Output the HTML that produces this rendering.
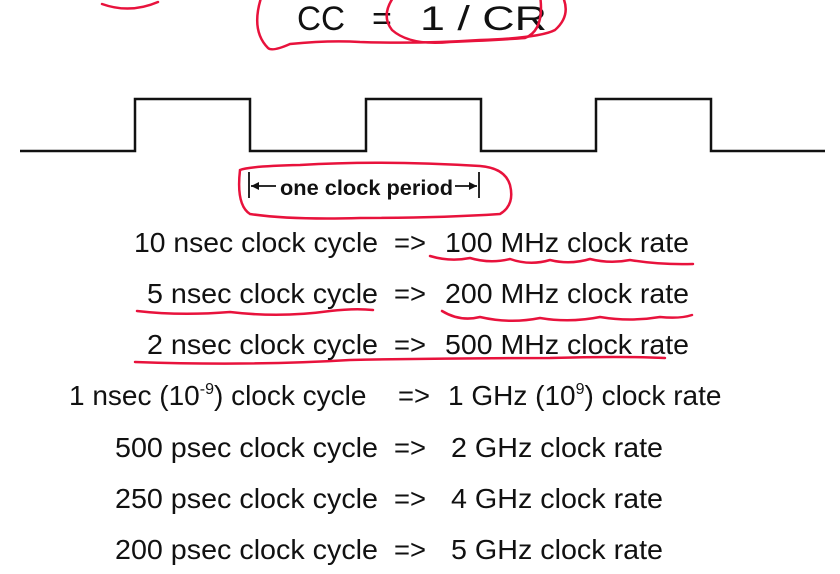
<!DOCTYPE html>
<html><head><meta charset="utf-8"><style>
html,body{margin:0;padding:0;background:#fff;}
svg{display:block}
text{font-family:"Liberation Sans",Arial,sans-serif;fill:#111;}
</style></head><body>
<svg width="840" height="574" viewBox="0 0 840 574" xmlns="http://www.w3.org/2000/svg">
<!-- title -->
<text x="297" y="30" font-size="34" textLength="48" lengthAdjust="spacingAndGlyphs">CC</text>
<text x="372" y="30" font-size="34">=</text>
<text x="420" y="30" font-size="34" textLength="127" lengthAdjust="spacingAndGlyphs">1 / CR</text>
<!-- red annotations top -->
<g fill="none" stroke="#e8123c" stroke-width="2.5" stroke-linecap="round">
<path d="M102 4 Q130 14 158 2"/>
<path d="M262 -5 Q250 30 268 48 Q272 52 290 44 Q330 40 360 42 Q420 44 480 40 Q540 38 555 30 Q572 15 562 -5"/>
<path d="M395 -5 Q380 15 392 30 Q410 46 450 42 Q500 40 525 38 Q545 30 540 -5"/>
<path d="M240 170 Q236 205 250 214 Q290 220 360 218 Q440 218 500 214 Q515 205 510 185 Q505 168 480 166 Q380 160 300 165 Q250 166 240 170"/>
<path d="M430 256 Q450 262 470 258 Q490 264 510 259 Q530 266 550 260 Q570 265 590 259 Q610 264 630 260 Q660 265 693 264"/>
<path d="M137 311 Q180 316 230 312 Q280 318 330 311 Q355 308 373 310"/>
<path d="M442 311 Q460 322 480 317 Q510 324 540 318 Q570 323 600 317 Q630 322 660 317 Q680 319 692 315"/>
<path d="M135 362 Q250 366 350 360 Q450 358 550 358 Q620 356 665 358"/>
</g>
<!-- waveform -->
<path d="M20 151 H135 V99 H250 V151 H366 V99 H481 V151 H596 V99 H711 V151 H825" fill="none" stroke="#111" stroke-width="2.5"/>
<!-- clock period -->
<g stroke="#111" stroke-width="1.8">
<line x1="249" y1="172" x2="249" y2="198"/>
<line x1="479" y1="172" x2="479" y2="198"/>
<line x1="251" y1="186" x2="276" y2="186"/>
<line x1="455" y1="186" x2="477" y2="186"/>
</g>
<path d="M251 186 L259 182 L259 190 Z" fill="#111"/>
<path d="M477 186 L469 182 L469 190 Z" fill="#111"/>
<text x="280" y="195" font-size="21" font-weight="bold" textLength="173" lengthAdjust="spacingAndGlyphs">one clock period</text>
<!-- rows -->
<g font-size="28">
<text x="134" y="252" textLength="244" lengthAdjust="spacingAndGlyphs">10 nsec clock cycle</text>
<text x="394" y="252" textLength="32" lengthAdjust="spacingAndGlyphs">=&gt;</text>
<text x="445" y="252" textLength="244" lengthAdjust="spacingAndGlyphs">100 MHz clock rate</text>

<text x="147" y="303" textLength="231" lengthAdjust="spacingAndGlyphs">5 nsec clock cycle</text>
<text x="394" y="303" textLength="32" lengthAdjust="spacingAndGlyphs">=&gt;</text>
<text x="445" y="303" textLength="244" lengthAdjust="spacingAndGlyphs">200 MHz clock rate</text>

<text x="147" y="354" textLength="231" lengthAdjust="spacingAndGlyphs">2 nsec clock cycle</text>
<text x="394" y="354" textLength="32" lengthAdjust="spacingAndGlyphs">=&gt;</text>
<text x="445" y="354" textLength="244" lengthAdjust="spacingAndGlyphs">500 MHz clock rate</text>

<text x="69" y="405">1 nsec (10<tspan font-size="16" dy="-11">-9</tspan><tspan dy="11">) clock cycle</tspan></text>
<text x="398" y="405" textLength="32" lengthAdjust="spacingAndGlyphs">=&gt;</text>
<text x="448" y="405">1 GHz (10<tspan font-size="16" dy="-11">9</tspan><tspan dy="11">) clock rate</tspan></text>

<text x="115" y="457" textLength="263" lengthAdjust="spacingAndGlyphs">500 psec clock cycle</text>
<text x="394" y="457" textLength="32" lengthAdjust="spacingAndGlyphs">=&gt;</text>
<text x="451" y="457" textLength="212" lengthAdjust="spacingAndGlyphs">2 GHz clock rate</text>

<text x="115" y="508" textLength="263" lengthAdjust="spacingAndGlyphs">250 psec clock cycle</text>
<text x="394" y="508" textLength="32" lengthAdjust="spacingAndGlyphs">=&gt;</text>
<text x="451" y="508" textLength="212" lengthAdjust="spacingAndGlyphs">4 GHz clock rate</text>

<text x="115" y="559" textLength="263" lengthAdjust="spacingAndGlyphs">200 psec clock cycle</text>
<text x="394" y="559" textLength="32" lengthAdjust="spacingAndGlyphs">=&gt;</text>
<text x="451" y="559" textLength="212" lengthAdjust="spacingAndGlyphs">5 GHz clock rate</text>
</g>
</svg>
</body></html>
